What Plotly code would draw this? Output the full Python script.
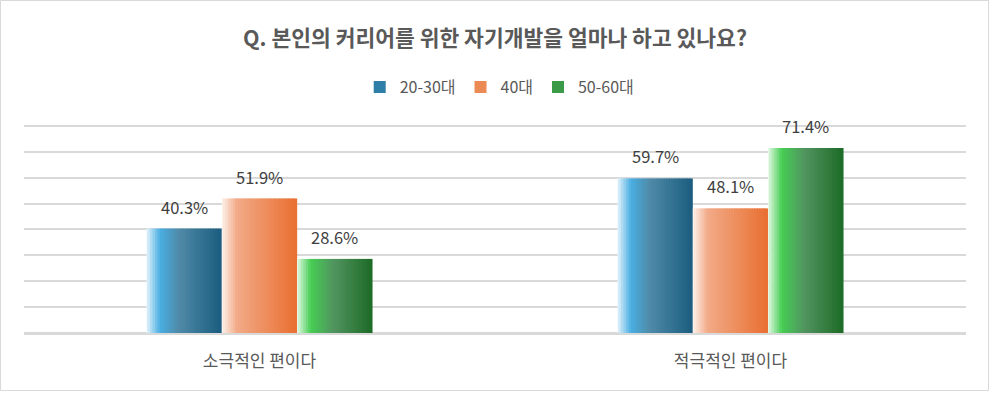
import plotly.graph_objects as go

# ---- data ----
categories = ["소극적인 편이다", "적극적인 편이다"]
series_names = ["20-30대", "40대", "50-60대"]
v_2030 = [0.403, 0.597]
v_40 = [0.519, 0.481]
v_5060 = [0.286, 0.714]
values = [v_2030, v_40, v_5060]

# ---- styles ----
stops = [
    [(0.0, (246, 251, 254)), (0.2, (72, 174, 226)), (0.45, (80, 138, 168)), (1.0, (28, 94, 128))],
    [(0.0, (255, 249, 246)), (0.22, (242, 170, 135)), (1.0, (233, 112, 50))],
    [(0.0, (244, 253, 244)), (0.2, (70, 206, 84)), (0.5, (82, 148, 96)), (1.0, (30, 108, 40))],
]
legend_colors = ["#2E7FA8", "#EC8A55", "#3A9A48"]


def interp(st, t):
    for (p0, c0), (p1, c1) in zip(st[:-1], st[1:]):
        if p0 <= t <= p1:
            f = (t - p0) / (p1 - p0)
            return "rgb(%d,%d,%d)" % tuple(round(a + (b - a) * f) for a, b in zip(c0, c1))
    return "rgb(%d,%d,%d)" % st[-1][1]


W, H = 990, 393
ML, MR, MT, MB = 24, 24, 123, 60
PW, PH = W - ML - MR, H - MT - MB
group_w = 0.48
bw = group_w / len(values)
N = 30
s = bw / N
extra = s * 0.6
px_per_cat = PW / len(categories)

fig = go.Figure()
annotations = []
for i, (name, vals) in enumerate(zip(series_names, values)):
    start = -group_w / 2 + i * bw
    for j in range(N):
        t = (j + 0.5) / N
        off = start + j * s - (extra if j > 0 else 0)
        wid = s + (extra if j > 0 else 0)
        fig.add_trace(go.Bar(
            x=categories, y=vals, offset=off, width=wid,
            marker=dict(color=interp(stops[i], t), line=dict(width=0)),
            showlegend=False, hoverinfo="skip",
        ))
    for c, v in zip(categories, vals):
        annotations.append(dict(
            x=c, y=v, xref="x", yref="y", text="%.1f%%" % (v * 100),
            showarrow=False, xanchor="center", yanchor="bottom",
            xshift=(start + bw / 2) * px_per_cat, yshift=8,
            font=dict(size=16.5, color="#404040"),
        ))

for name, c in zip(series_names, legend_colors):
    fig.add_trace(go.Bar(x=[categories[0]], y=[None], name=name,
                         marker=dict(color=c, line=dict(width=0))))

fig.update_layout(
    width=W, height=H,
    margin=dict(l=ML, r=MR, t=MT, b=MB),
    paper_bgcolor="white", plot_bgcolor="white",
    font=dict(family="Noto Sans CJK KR", color="#595959"),
    barmode="overlay",
    title=dict(text="<b>Q. 본인의 커리어를 위한 자기개발을 얼마나 하고 있나요?</b>",
               x=0.5, xanchor="center", y=1 - 38 / H, yanchor="middle",
               font=dict(size=21.5, color="#595959")),
    legend=dict(orientation="h", x=0.505, xanchor="center",
                y=1 + (MT - 87) / PH, yanchor="middle", itemwidth=30,
                font=dict(size=16, color="#595959"), traceorder="normal"),
    xaxis=dict(showgrid=False, showline=False, ticks="", tickfont=dict(size=17, color="#595959"),
               ticklabelstandoff=16),
    yaxis=dict(range=[0, 0.8 * PH / 207.2], dtick=0.1, showticklabels=False,
               gridcolor="#D9D9D9", gridwidth=1.5,
               zeroline=True, zerolinecolor="#D9D9D9", zerolinewidth=3),
    annotations=annotations,
    shapes=[dict(type="rect", xref="paper", yref="paper",
                 x0=-(ML - 0.5) / PW, x1=1 + (MR - 1.5) / PW,
                 y0=-(MB - 2.5) / PH, y1=1 + (MT - 0.5) / PH,
                 line=dict(color="#D9D9D9", width=1), layer="below")],
)

fig.write_html("out.html")
